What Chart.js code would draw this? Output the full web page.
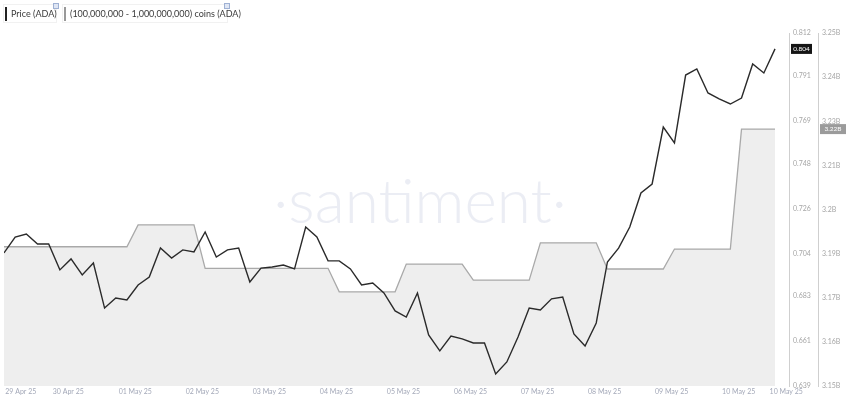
<!DOCTYPE html>
<html><head><meta charset="utf-8">
<script src="https://cdn.jsdelivr.net/npm/chart.js@4/dist/chart.umd.min.js"></script>
<style>
html,body{margin:0;padding:0;background:#fff;}
#wrap{position:relative;width:850px;height:400px;overflow:hidden;}
#c{position:absolute;left:0;top:0;}
.leg{position:absolute;top:4px;height:19px;display:flex;align-items:center;white-space:nowrap;font:9px Lato,"Open Sans",sans-serif;color:#3a3a3a;border:1px solid #f1f1f1;box-sizing:border-box;padding:0 0 0 7px;}
.leg .bar{position:absolute;left:1px;top:2px;width:2px;height:14px;}
.leg .ic{position:absolute;right:-3px;top:-2px;width:4px;height:4px;border:1px solid #9fb1d3;background:#dfe6f4;}
</style></head>
<body>
<div id="wrap">
<canvas id="c" width="850" height="400"></canvas>
<div class="leg" style="left:3px;width:54px"><span class="bar" style="background:#222"></span>Price (ADA)<span class="ic"></span></div>
<div class="leg" style="left:62px;width:166px"><span class="bar" style="background:#999"></span>(100,000,000 - 1,000,000,000) coins (ADA)<span class="ic"></span></div>
</div>
<script>
// Time axis: hours since 29 Apr 25 00:00, one sample every 4 hours
const startHour = 1;
const stepHours = 4;
const dayTickHours = [7, 24, 48, 72, 96, 120, 144, 168, 192, 216, 240, 264, 281];
const dayLabels = ['29 Apr 25','30 Apr 25','01 May 25','02 May 25','03 May 25','04 May 25','05 May 25','06 May 25','07 May 25','08 May 25','09 May 25','10 May 25','10 May 25'];

const priceADA = [
  0.7042,0.7120,0.7135,0.7086,0.7086,0.6959,0.7013,0.6934,0.6993,0.6772,
  0.6821,0.6812,0.6885,0.6924,0.7066,0.7017,0.7057,0.7047,0.7145,0.7022,
  0.7057,0.7066,0.6900,0.6968,0.6973,0.6983,0.6964,0.7169,0.7120,0.7003,
  0.7003,0.6964,0.6885,0.6895,0.6846,0.6758,0.6728,0.6846,0.6640,0.6562,
  0.6635,0.6621,0.6601,0.6601,0.6449,0.6508,0.6630,0.6772,0.6763,0.6817,
  0.6826,0.6645,0.6586,0.6699,0.6998,0.7066,0.7169,0.7336,0.7380,0.7659,
  0.7581,0.7914,0.7944,0.7826,0.7797,0.7772,0.7801,0.7968,0.7924,0.8042
];
// whale holdings (billions of ADA)
const holdersB = [
  3.1886,3.1886,3.1886,3.1886,3.1886,3.1886,3.1886,3.1886,3.1886,3.1886,
  3.1886,3.1886,3.1953,3.1953,3.1953,3.1953,3.1953,3.1953,3.1820,3.1820,
  3.1820,3.1820,3.1820,3.1820,3.1820,3.1820,3.1820,3.1820,3.1820,3.1820,
  3.1748,3.1748,3.1748,3.1748,3.1748,3.1748,3.1833,3.1833,3.1833,3.1833,
  3.1833,3.1833,3.1784,3.1784,3.1784,3.1784,3.1784,3.1784,3.1898,3.1898,
  3.1898,3.1898,3.1898,3.1898,3.1818,3.1818,3.1818,3.1818,3.1818,3.1818,
  3.1879,3.1879,3.1879,3.1879,3.1879,3.1879,3.2246,3.2246,3.2246,3.2246
];
const priceTicks = [0.639,0.661,0.683,0.704,0.726,0.748,0.769,0.791,0.812];
const holderTicks = [3.146,3.1595,3.173,3.1865,3.2,3.2135,3.227,3.2405,3.254];
const holderTickLabels = ['3.15B','3.16B','3.17B','3.19B','3.2B','3.21B','3.23B','3.24B','3.25B'];

const hours = priceADA.map((_, i) => startHour + i * stepHours);
const pricePts = priceADA.map((v, i) => ({x: hours[i], y: v}));
const holderPts = holdersB.map((v, i) => ({x: hours[i], y: v}));

const FONT = 'Lato, "Open Sans", sans-serif';

const watermark = {
  id: 'watermark',
  beforeDatasetsDraw(chart) {
    const ctx = chart.ctx;
    ctx.save();
    ctx.font = '300 62px ' + FONT;
    ctx.fillStyle = 'rgba(228,231,240,0.75)';
    ctx.textAlign = 'center';
    ctx.textBaseline = 'alphabetic';
    ctx.fillText('·santiment·', 420, 223);
    ctx.restore();
  }
};
const badges = {
  id: 'badges',
  afterDraw(chart) {
    const ctx = chart.ctx;
    const sp = chart.scales.yPrice, sh = chart.scales.yHold;
    const lp = priceADA[priceADA.length - 1], lh = holdersB[holdersB.length - 1];
    ctx.save();
    ctx.font = '6.5px ' + FONT;
    ctx.textBaseline = 'middle';
    ctx.textAlign = 'center';
    let y = sp.getPixelForValue(lp);
    ctx.fillStyle = '#151515';
    ctx.fillRect(sp.left + 2, y - 5, 21, 10);
    ctx.fillStyle = '#fff';
    ctx.fillText(lp.toFixed(3), sp.left + 12.5, y);
    y = sh.getPixelForValue(lh);
    ctx.fillStyle = '#9b9b9b';
    ctx.fillRect(sh.left + 2, y - 5, 26, 10);
    ctx.fillStyle = '#fff';
    ctx.fillText(lh.toFixed(2) + 'B', sh.left + 15, y);
    ctx.restore();
  }
};

new Chart(document.getElementById('c'), {
  type: 'line',
  data: {
    datasets: [
      {
        label: 'Price (ADA)',
        data: pricePts,
        yAxisID: 'yPrice',
        borderColor: '#2a2a2a',
        borderWidth: 1.4,
        pointRadius: 0,
        tension: 0,
        fill: false,
        order: 0
      },
      {
        label: '(100,000,000 - 1,000,000,000) coins (ADA)',
        data: holderPts,
        yAxisID: 'yHold',
        borderColor: '#a9a9a9',
        borderWidth: 1.3,
        backgroundColor: 'rgb(238,238,238)',
        pointRadius: 0,
        tension: 0,
        fill: 'start',
        order: 1
      }
    ]
  },
  options: {
    responsive: false,
    animation: false,
    layout: {padding: {left: 4, top: 33, right: 0, bottom: 0}},
    plugins: {legend: {display: false}, tooltip: {enabled: false}},
    scales: {
      x: {
        type: 'linear',
        min: startHour,
        max: 282,
        grid: {display: false, drawTicks: false},
        border: {display: false},
        afterBuildTicks: s => { s.ticks = dayTickHours.map(v => ({value: v})); },
        afterFit: s => { s.height = 14; s.paddingLeft = 0; s.paddingRight = 0; },
        ticks: {
          autoSkip: false, maxRotation: 0, padding: 2,
          color: '#a3a8b8', font: {size: 7, family: FONT},
          callback: (v, i) => dayLabels[i]
        }
      },
      yPrice: {
        position: 'right',
        min: priceTicks[0],
        max: priceTicks[priceTicks.length - 1],
        grid: {drawOnChartArea: false, drawTicks: false},
        border: {display: true, color: '#cfcfcf'},
        afterBuildTicks: s => { s.ticks = priceTicks.map(v => ({value: v})); },
        afterFit: s => { s.width = 29; },
        ticks: {padding: 4, color: '#a6a6a6', font: {size: 7, family: FONT},
          callback: v => v.toFixed(3)}
      },
      yHold: {
        position: 'right',
        min: holderTicks[0],
        max: holderTicks[holderTicks.length - 1],
        grid: {drawOnChartArea: false, drawTicks: false},
        border: {display: true, color: '#cfcfcf'},
        afterBuildTicks: s => { s.ticks = holderTicks.map(v => ({value: v})); },
        afterFit: s => { s.width = 32; },
        ticks: {padding: 4, color: '#a6a6a6', font: {size: 7, family: FONT},
          callback: (v, i) => holderTickLabels[i]}
      }
    }
  },
  plugins: [watermark, badges]
});
</script>
</body></html>
